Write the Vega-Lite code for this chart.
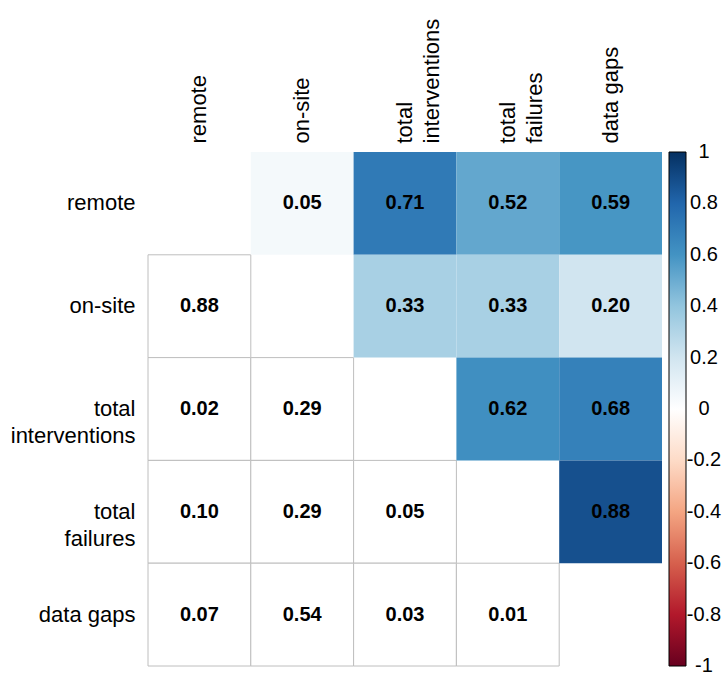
{
  "$schema": "https://vega.github.io/schema/vega-lite/v6.json",
  "width": 514,
  "height": 514,
  "autosize": {"type": "none"},
  "padding": {"left": 148, "top": 152, "right": 60, "bottom": 7},
  "background": "white",
  "config": {"view": {"stroke": null}, "font": "Liberation Sans"},
  "data": {
    "values": [
      {"row": "remote", "col": "on-site", "value": 0.05, "part": "upper"},
      {"row": "remote", "col": "total interventions", "value": 0.71, "part": "upper"},
      {"row": "remote", "col": "total failures", "value": 0.52, "part": "upper"},
      {"row": "remote", "col": "data gaps", "value": 0.59, "part": "upper"},
      {"row": "on-site", "col": "total interventions", "value": 0.33, "part": "upper"},
      {"row": "on-site", "col": "total failures", "value": 0.33, "part": "upper"},
      {"row": "on-site", "col": "data gaps", "value": 0.20, "part": "upper"},
      {"row": "total interventions", "col": "total failures", "value": 0.62, "part": "upper"},
      {"row": "total interventions", "col": "data gaps", "value": 0.68, "part": "upper"},
      {"row": "total failures", "col": "data gaps", "value": 0.88, "part": "upper"},
      {"row": "on-site", "col": "remote", "value": 0.88, "part": "lower"},
      {"row": "total interventions", "col": "remote", "value": 0.02, "part": "lower"},
      {"row": "total interventions", "col": "on-site", "value": 0.29, "part": "lower"},
      {"row": "total failures", "col": "remote", "value": 0.10, "part": "lower"},
      {"row": "total failures", "col": "on-site", "value": 0.29, "part": "lower"},
      {"row": "total failures", "col": "total interventions", "value": 0.05, "part": "lower"},
      {"row": "data gaps", "col": "remote", "value": 0.07, "part": "lower"},
      {"row": "data gaps", "col": "on-site", "value": 0.54, "part": "lower"},
      {"row": "data gaps", "col": "total interventions", "value": 0.03, "part": "lower"},
      {"row": "data gaps", "col": "total failures", "value": 0.01, "part": "lower"}
    ]
  },
  "encoding": {
    "x": {
      "field": "col",
      "type": "nominal",
      "scale": {"domain": ["remote", "on-site", "total interventions", "total failures", "data gaps"], "paddingInner": 0, "paddingOuter": 0},
      "axis": {
        "orient": "top",
        "title": null,
        "labelAngle": -90,
        "labelAlign": "left",
        "labelBaseline": "middle",
        "labelPadding": 9,
        "ticks": false,
        "domain": false,
        "labelFontSize": 22,
        "labelColor": "black",
        "labelLineHeight": 27,
        "labelLimit": 0,
        "labelExpr": "datum.value == 'total interventions' ? ['total', ' interventions'] : datum.value == 'total failures' ? ['total', ' failures'] : datum.value"
      }
    },
    "y": {
      "field": "row",
      "type": "nominal",
      "scale": {"domain": ["remote", "on-site", "total interventions", "total failures", "data gaps"], "paddingInner": 0, "paddingOuter": 0},
      "axis": {
        "title": null,
        "labelAlign": "right",
        "labelBaseline": "middle",
        "labelPadding": 13,
        "ticks": false,
        "domain": false,
        "labelFontSize": 22,
        "labelColor": "black",
        "labelLineHeight": 27,
        "labelLimit": 0,
        "labelExpr": "datum.value == 'total interventions' ? ['total ', 'interventions'] : datum.value == 'total failures' ? ['total ', 'failures'] : datum.value"
      }
    }
  },
  "layer": [
    {
      "transform": [{"filter": "datum.part == 'lower'"}],
      "mark": {"type": "rect", "fill": "white", "stroke": "#BEBEBE", "strokeWidth": 1}
    },
    {
      "transform": [{"filter": "datum.part == 'upper'"}],
      "mark": {"type": "rect"},
      "encoding": {
        "color": {
          "field": "value",
          "type": "quantitative",
          "scale": {
            "domain": [-1, -0.8, -0.6, -0.4, -0.2, 0, 0.2, 0.4, 0.6, 0.8, 1],
            "range": ["#67001F", "#B2182B", "#D6604D", "#F4A582", "#FDDBC7", "#FFFFFF", "#D1E5F0", "#92C5DE", "#4393C3", "#2166AC", "#053061"],
            "interpolate": "rgb"
          },
          "legend": {
            "type": "gradient",
            "orient": "right",
            "direction": "vertical",
            "offset": 7,
            "title": null,
            "gradientLength": 514,
            "gradientThickness": 17,
            "gradientStrokeColor": "black",
            "gradientStrokeWidth": 1,
            "values": [1, 0.8, 0.6, 0.4, 0.2, 0, -0.2, -0.4, -0.6, -0.8, -1],
            "labelFontSize": 20,
            "labelOffset": 18,
            "labelOverlap": false,
            "labelColor": "black",
            "labelLimit": 0,
            "labelExpr": "'' + datum.value",
            "encode": {
              "labels": {
                "update": {
                  "align": {"value": "center"},
                  "baseline": {"value": "middle"}
                }
              }
            }
          }
        }
      }
    },
    {
      "mark": {"type": "text", "fontSize": 20, "fontWeight": "bold", "color": "black"},
      "encoding": {"text": {"field": "value", "type": "quantitative", "format": ".2f"}}
    }
  ]
}
